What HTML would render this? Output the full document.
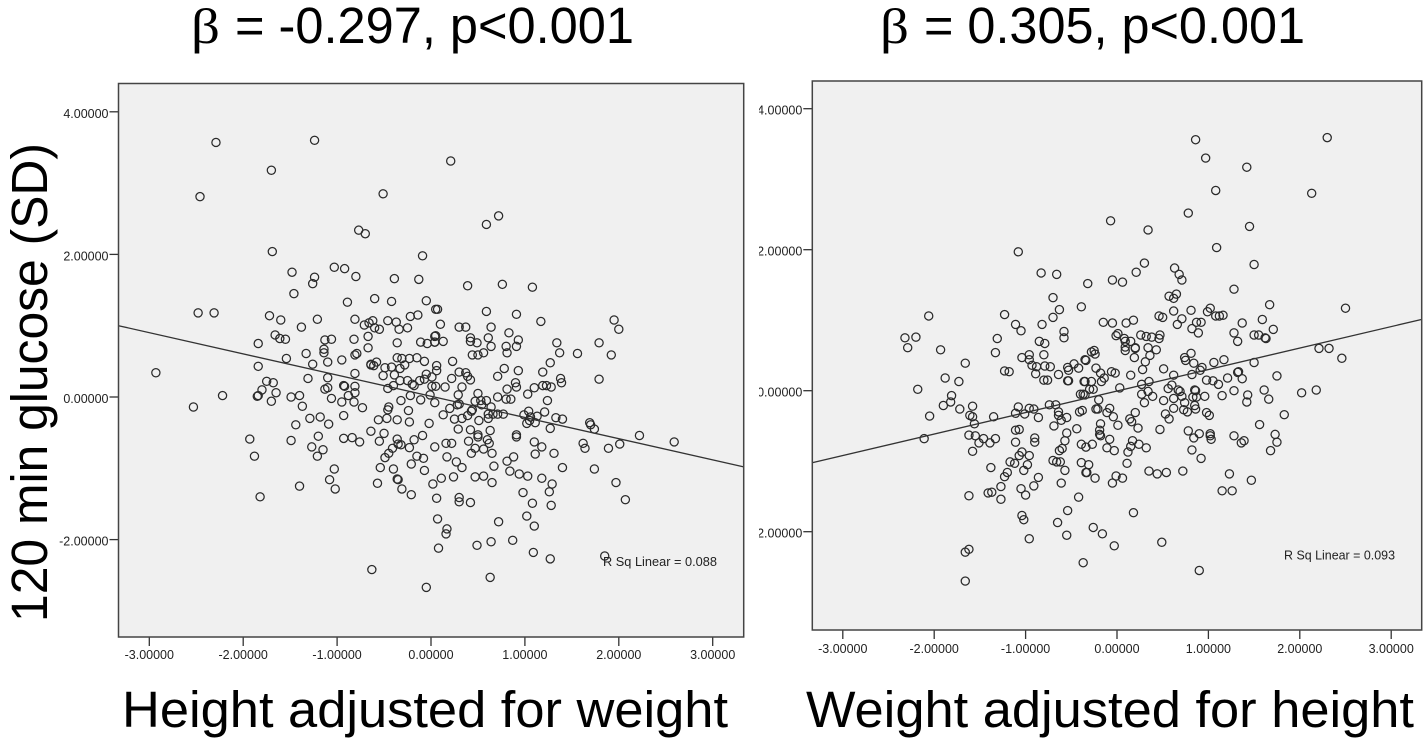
<!DOCTYPE html>
<html>
<head>
<meta charset="utf-8">
<title>Glucose regression plots</title>
<style>
html,body{margin:0;padding:0;background:#fff;}
#chart{display:block;width:1426px;height:741px;}
text{font-family:"Liberation Sans",sans-serif;}
.big{font-size:51px;fill:#000;}
.beta{font-family:"Liberation Serif",serif;font-size:50px;fill:#000;}
.tick{font-size:12.5px;fill:#222;}
</style>
</head>
<body>
<svg id="chart" xmlns="http://www.w3.org/2000/svg" width="1426" height="741" viewBox="0 0 1426 741">
<defs><clipPath id="right-clip"><rect x="759" y="0" width="667" height="741"/></clipPath></defs>
<text class="beta" x="191" y="43" textLength="29" lengthAdjust="spacingAndGlyphs">β</text>
<text class="big" x="235" y="43" textLength="399" lengthAdjust="spacingAndGlyphs">= -0.297, p&lt;0.001</text>
<text class="beta" x="880" y="43" textLength="29" lengthAdjust="spacingAndGlyphs">β</text>
<text class="big" x="924" y="43" textLength="381" lengthAdjust="spacingAndGlyphs">= 0.305, p&lt;0.001</text>
<text class="big" x="122" y="727" textLength="606" lengthAdjust="spacingAndGlyphs">Height adjusted for weight</text>
<text class="big" x="806" y="727" textLength="608" lengthAdjust="spacingAndGlyphs">Weight adjusted for height</text>
<text class="big" transform="translate(47,622) rotate(-90)" textLength="479" lengthAdjust="spacingAndGlyphs">120 min glucose (SD)</text>
<g id="left-panel"></g>
<g id="right-panel"></g>
</svg>
<script>
const xTicks = [-3, -2, -1, 0, 1, 2, 3];
const yTicks = [4, 2, 0, -2];
const leftLine = [[-3.328, 1.0], [3.33, -0.98]];
const rightLine = [[-3.33, -1.02], [3.33, 1.01]];
const leftRSquare = "R Sq Linear = 0.088";
const rightRSquare = "R Sq Linear = 0.093";
const leftPoints = [
[-2.29,3.57],[-1.24,3.6],[-1.7,3.18],[-2.46,2.81],[-0.51,2.85],[-0.77,2.34],[-0.7,2.29],[-1.69,2.04],[-0.09,1.98],[-1.48,1.75],
[-1.24,1.68],[-1.26,1.59],[-1.03,1.82],[-0.92,1.8],[-0.8,1.69],[-0.39,1.66],[-0.13,1.65],[-1.46,1.45],[-0.89,1.33],[-0.6,1.38],
[-0.42,1.34],[-0.05,1.35],[0.05,1.23],[-2.48,1.18],[-2.31,1.18],[-1.72,1.14],[-1.6,1.08],[-1.21,1.09],[-1.38,0.98],[-0.81,1.09],
[-0.71,1.01],[-0.66,1.04],[-0.62,1.07],[-0.6,0.97],[-0.55,0.95],[-0.46,1.07],[-0.37,1.05],[-0.34,0.95],[-0.25,0.97],[-0.22,1.13],
[-0.14,1.15],[-1.66,0.87],[-1.61,0.82],[-1.55,0.81],[-1.84,0.75],[-1.13,0.8],[-1.06,0.81],[-0.82,0.81],[-0.67,0.85],[-0.67,0.69],
[-0.36,0.76],[-0.11,0.77],[-0.04,0.75],[0.04,0.77],[0.04,0.85],[-1.14,0.67],[-1.14,0.62],[-1.33,0.61],[-1.54,0.54],[-0.81,0.59],
[-0.79,0.61],[-0.95,0.52],[-0.36,0.55],[-0.31,0.54],[-0.23,0.54],[-0.15,0.55],[-0.07,0.5],[-1.1,0.49],[-1.26,0.46],[-0.64,0.46],
[-0.58,0.49],[0.21,3.31],[0.72,2.54],[0.59,2.42],[0.39,1.56],[0.76,1.58],[1.08,1.54],[0.07,1.23],[0.59,1.2],[0.91,1.16],
[1.17,1.06],[1.95,1.08],[2.0,0.95],[0.1,1.02],[0.3,0.98],[0.37,0.98],[0.64,0.98],[0.83,0.9],[0.61,0.83],[0.93,0.8],
[0.05,0.86],[0.04,0.77],[0.13,0.78],[0.42,0.83],[0.42,0.78],[0.49,0.76],[0.64,0.71],[0.8,0.71],[0.91,0.71],[1.34,0.76],
[1.37,0.62],[1.56,0.61],[1.79,0.76],[1.92,0.59],[0.44,0.59],[0.5,0.59],[0.56,0.62],[0.81,0.62],[0.23,0.5],[1.27,0.48],
[0.06,0.44],[-2.93,0.34],[-2.53,-0.14],[-2.22,0.02],[-1.84,0.43],[-1.75,0.22],[-1.68,0.2],[-1.8,0.1],[-1.65,0.06],[-1.85,0.01],
[-1.84,0.02],[-1.7,-0.06],[-1.49,0.0],[-1.4,0.02],[-1.37,-0.13],[-1.31,0.26],[-1.1,0.27],[-1.1,0.13],[-1.13,0.11],[-1.06,-0.02],
[-0.93,0.16],[-0.92,0.15],[-0.95,-0.07],[-0.88,0.02],[-0.81,0.15],[-0.81,0.06],[-0.81,0.33],[-0.82,-0.07],[-0.73,-0.15],[-0.93,-0.26],
[-1.29,-0.3],[-1.18,-0.28],[-1.09,-0.38],[-1.44,-0.39],[-1.93,-0.59],[-1.49,-0.61],[-1.88,-0.83],[-1.82,-1.4],[-1.4,-1.25],[-1.2,-0.55],
[-1.27,-0.7],[-1.15,-0.74],[-1.21,-0.83],[-0.93,-0.58],[-0.84,-0.57],[-0.76,-0.63],[-0.64,-0.48],[-1.03,-1.01],[-1.08,-1.16],[-1.02,-1.29],
[-0.57,-1.21],[-0.54,-0.99],[-0.4,-1.01],[-0.36,-1.15],[-0.35,-1.16],[-0.31,-1.29],[-0.21,-1.37],[-0.07,-1.03],[-0.21,-0.94],[-0.15,-0.83],
[-0.08,-0.86],[-0.49,-0.85],[-0.45,-0.79],[-0.41,-0.72],[-0.36,-0.59],[-0.35,-0.66],[-0.32,-0.67],[-0.23,-0.71],[-0.18,-0.6],[-0.09,-0.54],
[-0.55,-0.62],[-0.5,-0.51],[-0.56,-0.32],[-0.47,-0.3],[-0.36,-0.32],[-0.46,-0.18],[-0.45,-0.14],[-0.24,-0.19],[-0.23,-0.35],[-0.02,-0.37],
[-0.32,-0.05],[-0.11,-0.04],[-0.22,0.02],[-0.46,0.12],[-0.4,0.16],[-0.51,0.3],[-0.49,0.41],[-0.42,0.42],[-0.39,0.31],[-0.33,0.4],
[-0.33,0.23],[-0.25,0.23],[-0.2,0.18],[-0.18,0.16],[-0.12,0.23],[-0.07,0.25],[-0.05,0.32],[0.01,0.28],[0.01,0.15],[0.05,0.15],
[-0.01,0.03],[-0.64,0.45],[-0.61,0.44],[-0.28,0.45],[-0.63,-2.42],[-0.05,-2.67],[0.06,0.37],[0.22,0.26],[0.3,0.35],[0.37,0.34],
[0.39,0.29],[0.42,0.24],[0.71,0.29],[0.78,0.4],[0.93,0.37],[1.19,0.35],[1.38,0.26],[1.39,0.2],[1.79,0.25],[0.15,0.14],
[0.33,0.14],[0.29,0.03],[0.9,0.2],[0.91,0.14],[0.81,0.11],[1.03,0.04],[1.1,0.13],[1.19,0.16],[1.23,0.16],[1.28,0.14],
[0.04,-0.08],[0.5,0.05],[0.71,0.0],[0.8,-0.03],[0.85,-0.03],[1.24,-0.05],[0.47,-0.06],[0.53,-0.05],[0.59,-0.05],[0.2,-0.16],
[0.28,-0.11],[0.3,-0.1],[0.13,-0.25],[0.44,-0.18],[0.43,-0.2],[0.54,-0.11],[0.64,-0.14],[0.39,-0.26],[0.33,-0.3],[0.25,-0.31],
[0.61,-0.24],[0.61,-0.3],[0.66,-0.24],[0.71,-0.24],[0.77,-0.24],[0.99,-0.25],[1.04,-0.2],[1.06,-0.28],[1.13,-0.27],[1.11,-0.36],
[1.02,-0.37],[1.05,-0.33],[1.21,-0.21],[1.33,-0.29],[1.4,-0.31],[1.27,-0.44],[1.69,-0.36],[1.7,-0.39],[1.74,-0.45],[0.51,-0.33],
[0.29,-0.45],[0.42,-0.46],[0.63,-0.47],[0.5,-0.53],[0.5,-0.56],[0.4,-0.62],[0.6,-0.6],[0.62,-0.65],[0.47,-0.72],[0.43,-0.79],
[0.56,-0.73],[0.65,-0.79],[0.04,-0.7],[0.16,-0.65],[0.22,-0.65],[0.17,-0.84],[0.27,-0.91],[0.33,-0.99],[0.91,-0.53],[0.91,-0.56],
[1.1,-0.63],[1.18,-0.7],[1.11,-0.8],[1.31,-0.79],[1.62,-0.65],[1.64,-0.72],[1.89,-0.72],[2.01,-0.66],[2.22,-0.54],[2.59,-0.63],
[1.4,-0.99],[1.74,-1.01],[1.97,-1.2],[2.07,-1.44],[0.88,-0.84],[0.81,-0.9],[0.67,-0.97],[0.84,-1.04],[0.94,-1.08],[1.03,-1.11],
[1.18,-1.14],[1.29,-1.22],[1.26,-1.33],[1.28,-1.52],[0.98,-1.34],[1.08,-1.49],[1.02,-1.67],[1.1,-1.81],[0.72,-1.75],[0.47,-1.12],
[0.56,-1.11],[0.65,-1.2],[0.24,-1.12],[0.11,-1.14],[0.02,-1.22],[0.06,-1.42],[0.3,-1.41],[0.3,-1.47],[0.42,-1.48],[0.07,-1.71],
[0.17,-1.85],[0.16,-1.92],[0.08,-2.12],[0.49,-2.08],[0.64,-2.03],[0.87,-2.01],[1.09,-2.18],[1.27,-2.27],[1.85,-2.23],[0.63,-2.53]
];
const rightPoints = [
[-1.08,1.97],[-0.83,1.67],[-0.66,1.65],[-0.32,1.52],[-0.7,1.32],[-0.39,1.19],[-0.63,1.15],[-2.06,1.06],[-1.23,1.08],[-0.7,1.04],
[-1.11,0.94],[-1.05,0.85],[-0.82,0.94],[-0.58,0.84],[-0.58,0.75],[-2.32,0.75],[-2.2,0.76],[-2.29,0.61],[-1.93,0.58],[-1.31,0.74],
[-1.33,0.54],[-0.85,0.7],[-0.79,0.67],[-0.8,0.51],[-1.66,0.39],[-1.04,0.47],[-0.96,0.51],[-0.96,0.44],[-0.93,0.36],[-0.88,0.34],
[-0.79,0.35],[-0.73,0.34],[-1.23,0.28],[-1.18,0.27],[-0.54,0.33],[-0.47,0.38],[-0.42,0.32],[-0.35,0.44],[-0.28,0.55],[-0.89,0.24],
[-0.64,0.23],[-0.53,0.29],[-0.8,0.15],[-0.76,0.15],[-0.54,0.14],[-0.53,0.14],[-0.36,0.13],[-1.88,0.18],[-1.73,0.13],[-2.18,0.02],
[-1.81,-0.07],[-1.9,-0.21],[-1.82,-0.16],[-1.72,-0.26],[-1.58,-0.22],[-2.05,-0.36],[-1.61,-0.35],[-1.58,-0.37],[-1.56,-0.47],[-1.35,-0.37],
[-2.11,-0.68],[-1.62,-0.63],[-1.55,-0.64],[-1.46,-0.68],[-1.51,-0.74],[-1.39,-0.74],[-1.33,-0.68],[-1.58,-0.86],[-1.08,-0.23],[-1.11,-0.32],
[-1.01,-0.33],[-0.96,-0.25],[-0.91,-0.26],[-0.86,-0.38],[-0.74,-0.2],[-0.67,-0.2],[-0.64,-0.3],[-0.64,-0.35],[-0.61,-0.42],[-0.55,-0.38],
[-0.69,-0.5],[-0.44,-0.54],[-0.41,-0.3],[-0.38,-0.28],[-0.4,-0.05],[-0.37,-0.05],[-1.11,-0.56],[-1.07,-0.55],[-1.11,-0.73],[-0.9,-0.67],
[-0.9,-0.73],[-0.55,-0.6],[-0.57,-0.71],[-0.6,-0.82],[-0.63,-0.85],[-0.39,-0.76],[-0.34,-0.8],[-1.04,-0.87],[-1.07,-0.92],[-0.96,-0.92],
[-1.17,-1.01],[-1.12,-1.03],[-0.98,-1.05],[-1.02,-1.13],[-0.7,-0.99],[-0.66,-1.01],[-0.62,-1.01],[-0.57,-1.13],[-0.39,-1.02],[-0.34,-1.16],
[-1.38,-1.09],[-1.2,-1.16],[-1.23,-1.22],[-0.86,-1.23],[-0.61,-1.31],[-1.27,-1.36],[-0.91,-1.35],[-1.05,-1.39],[-1.0,-1.48],[-1.41,-1.45],
[-1.37,-1.44],[-1.62,-1.49],[-1.27,-1.54],[-0.42,-1.51],[-0.54,-1.7],[-1.04,-1.77],[-1.02,-1.83],[-0.65,-1.87],[-0.55,-2.05],[-0.96,-2.1],
[-1.62,-2.25],[-1.66,-2.29],[-0.37,-2.44],[-1.66,-2.7],[0.86,3.56],[2.3,3.59],[0.97,3.3],[1.42,3.17],[1.08,2.84],[2.13,2.8],
[0.78,2.52],[-0.07,2.41],[0.34,2.28],[1.45,2.33],[1.09,2.03],[1.5,1.79],[0.3,1.81],[0.21,1.68],[0.63,1.74],[0.68,1.65],
[0.71,1.57],[-0.05,1.57],[0.06,1.54],[1.28,1.44],[0.57,1.34],[0.62,1.31],[0.65,1.37],[1.67,1.22],[2.5,1.17],[0.62,1.13],
[0.81,1.14],[1.02,1.17],[0.99,1.12],[1.08,1.06],[1.12,1.06],[1.16,1.07],[0.46,1.06],[0.5,1.04],[0.71,1.02],[0.18,1.0],
[0.1,0.96],[-0.15,0.97],[-0.05,0.96],[0.66,0.94],[0.87,0.97],[0.92,0.97],[0.82,0.88],[0.89,0.82],[1.37,0.96],[1.59,1.01],
[1.71,0.87],[1.28,0.82],[1.32,0.7],[1.5,0.79],[1.55,0.79],[1.62,0.75],[1.63,0.74],[0.01,0.81],[-0.01,0.78],[0.08,0.74],
[0.09,0.7],[0.15,0.7],[0.26,0.79],[0.32,0.77],[0.38,0.76],[0.47,0.79],[0.46,0.74],[0.09,0.62],[0.09,0.57],[0.2,0.61],
[0.2,0.6],[0.34,0.61],[0.43,0.58],[0.36,0.5],[0.19,0.47],[0.31,0.41],[0.81,0.53],[0.74,0.47],[0.75,0.43],[0.84,0.39],
[0.93,0.33],[1.06,0.4],[1.17,0.44],[1.5,0.4],[2.21,0.6],[2.32,0.6],[2.46,0.46],[-0.25,0.57],[-0.24,0.52],[-0.34,0.43],
[-0.23,0.32],[0.51,0.31],[0.28,0.3],[-0.06,0.27],[1.33,0.27],[-0.18,0.25],[-0.02,0.25],[0.15,0.22],[0.62,0.22],[0.91,0.29],
[0.82,0.23],[0.98,0.15],[1.05,0.14],[1.11,0.09],[1.21,0.18],[1.32,0.26],[1.37,0.17],[1.75,0.21],[2.02,-0.03],[2.18,0.01],
[1.61,0.01],[1.66,-0.12],[1.28,0.0],[1.15,-0.07],[1.43,-0.06],[1.42,-0.16],[1.83,-0.34],[1.56,-0.48],[1.73,-0.62],[1.75,-0.73],
[1.68,-0.85],[1.28,-0.64],[1.39,-0.71],[1.36,-0.74],[1.23,-1.18],[1.47,-1.27],[1.15,-1.42],[1.26,-1.42],[1.02,-0.61],[1.02,-0.64],
[1.03,-0.69],[0.78,-0.57],[0.9,-0.61],[0.84,-0.67],[0.82,-0.84],[0.92,-0.96],[0.98,-0.31],[1.01,-0.35],[0.96,-0.08],[0.85,0.01],
[0.86,0.0],[0.87,-0.09],[0.83,-0.09],[0.85,-0.21],[0.86,-0.26],[0.74,-0.17],[0.73,-0.27],[0.77,-0.3],[0.62,-0.25],[0.53,-0.33],
[0.57,-0.4],[0.47,-0.55],[0.51,-0.14],[0.62,-0.11],[0.56,0.03],[0.6,0.08],[0.67,0.01],[0.69,-0.01],[0.71,-0.08],[0.27,0.09],
[0.35,0.13],[0.34,-0.01],[0.27,-0.05],[0.39,-0.08],[0.3,-0.17],[0.03,0.04],[-0.14,0.18],[-0.17,0.13],[-0.28,0.13],[-0.3,0.02],
[-0.26,0.02],[-0.35,0.13],[-0.35,-0.06],[-0.2,-0.13],[-0.23,-0.26],[-0.21,-0.26],[-0.08,-0.25],[-0.11,-0.31],[-0.04,-0.37],[0.01,-0.49],
[0.2,-0.31],[0.14,-0.4],[0.16,-0.44],[0.23,-0.53],[-0.18,-0.47],[-0.19,-0.56],[-0.19,-0.62],[-0.18,-0.64],[-0.08,-0.69],[-0.27,-0.76],
[-0.11,-0.81],[-0.03,-0.85],[0.17,-0.71],[0.15,-0.79],[0.12,-0.87],[0.24,-0.76],[0.32,-0.81],[0.11,-1.03],[-0.31,-1.05],[-0.33,-1.16],
[-0.24,-1.24],[-0.01,-1.21],[-0.05,-1.31],[0.06,-1.24],[0.35,-1.14],[0.44,-1.18],[0.54,-1.16],[0.72,-1.14],[0.18,-1.73],[-0.26,-1.94],
[-0.16,-2.03],[-0.03,-2.2],[0.49,-2.15],[0.9,-2.55]
];

const SVG_NS = "http://www.w3.org/2000/svg";
function make(parent, tag, attrs, text) {
  const el = document.createElementNS(SVG_NS, tag);
  for (const k in attrs) el.setAttribute(k, attrs[k]);
  if (text !== undefined) el.textContent = text;
  parent.appendChild(el);
  return el;
}
function drawPanel(host, cfg) {
  const sx = v => cfg.x0 + v * cfg.xUnit;
  const sy = v => cfg.y0 - v * cfg.yUnit;
  const bg = make(host, "rect", {x: cfg.l, y: cfg.t, width: cfg.r - cfg.l, height: cfg.b - cfg.t, fill: "#f0f0f0"});
  
  
  const labels = make(host, "g", cfg.clip ? {"clip-path": "url(#right-clip)"} : {});
  
  
  yTicks.forEach(v => {
    const tick = make(host, "line", {x1: cfg.l - 9, x2: cfg.l, y1: sy(v), y2: sy(v), stroke: "#333", "stroke-width": 1.3});
    
    
    const lab = make(labels, "text", {class: "tick", x: cfg.l - 10, y: sy(v) + 6, "text-anchor": "end"}, v.toFixed(5));
    
    
  });
  xTicks.forEach(v => {
    const tick = make(host, "line", {x1: sx(v), x2: sx(v), y1: cfg.b, y2: cfg.b + 9, stroke: "#333", "stroke-width": 1.3});
    
    
    const lab = make(host, "text", {class: "tick", x: sx(v), y: cfg.xLabelY, "text-anchor": "middle"}, v.toFixed(5));
    
    
  });
  const marks = make(host, "g", {});
  
  
  cfg.points.forEach(p => {
    const c = make(marks, "circle", {cx: sx(p[0]), cy: sy(p[1]), r: 4.1, fill: "none", stroke: "#2a2a2a", "stroke-width": 1.25});
    
    
  });
  const line = make(host, "line", {x1: sx(cfg.line[0][0]), y1: sy(cfg.line[0][1]), x2: sx(cfg.line[1][0]), y2: sy(cfg.line[1][1]), stroke: "#333", "stroke-width": 1.3});
  
  
  const frame = make(host, "path", {d: "M" + cfg.l + " " + cfg.t + "H" + cfg.r + "V" + cfg.b + "H" + cfg.l + "Z", fill: "none", stroke: "#444", "stroke-width": 1.5});
  
  
  const rs = make(host, "text", {x: cfg.rsX, y: cfg.rsY, "font-size": 12.5, fill: "#222", textLength: cfg.rsW, lengthAdjust: "spacingAndGlyphs"}, cfg.rs);
  
  
}
drawPanel(document.getElementById("left-panel"), {
  x0: 431, xUnit: 93.9, y0: 397, yUnit: 71.3, l: 118.5, r: 743.7, t: 83.5, b: 637,
  xLabelY: 659, points: leftPoints, line: leftLine, rs: leftRSquare, rsX: 603, rsY: 566, rsW: 114, clip: false
});
drawPanel(document.getElementById("right-panel"), {
  x0: 1117, xUnit: 91.4, y0: 390.7, yUnit: 70.5, l: 812.3, r: 1421.7, t: 81, b: 630,
  xLabelY: 653, points: rightPoints, line: rightLine, rs: rightRSquare, rsX: 1284, rsY: 559.7, rsW: 111, clip: true
});
</script>
</body>
</html>
